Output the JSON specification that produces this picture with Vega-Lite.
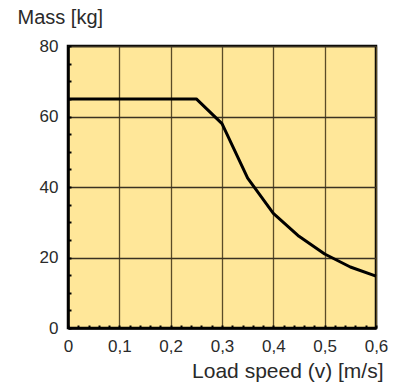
{
  "$schema": "https://vega.github.io/schema/vega-lite/v6.json",
  "autosize": {"type": "none"},
  "padding": {"left": 68, "top": 46, "right": 26, "bottom": 57},
  "width": 308,
  "height": 282,
  "background": "white",
  "config": {
    "view": {"fill": "#FFE799", "stroke": "black", "strokeWidth": 2.5},
    "font": "Liberation Sans"
  },
  "data": {"values": [
    {"v": 0, "m": 65},
    {"v": 0.25, "m": 65},
    {"v": 0.3, "m": 58},
    {"v": 0.35, "m": 42.5},
    {"v": 0.4, "m": 32.5},
    {"v": 0.45, "m": 26},
    {"v": 0.5, "m": 21},
    {"v": 0.55, "m": 17.3},
    {"v": 0.6, "m": 14.7}
  ]},
  "mark": {"type": "line", "color": "black", "strokeWidth": 3, "strokeJoin": "round"},
  "encoding": {
    "x": {
      "field": "v", "type": "quantitative",
      "scale": {"domain": [0, 0.6], "nice": false},
      "axis": {
        "title": "Load speed (v) [m/s]",
        "titleFontSize": 21, "titleFontWeight": "normal", "titleColor": "#2a2a2a",
        "titleAnchor": "end", "titleAlign": "right", "titleBaseline": "alphabetic",
        "titleX": 315, "titleY": 49,
        "values": [0,0.02,0.04,0.06,0.08,0.1,0.12,0.14,0.16,0.18,0.2,0.22,0.24,0.26,0.28,0.3,0.32,0.34,0.36,0.38,0.4,0.42,0.44,0.46,0.48,0.5,0.52,0.54,0.56,0.58,0.6],
        "labelExpr": "abs(datum.value*10-round(datum.value*10))<0.001 ? replace(format(datum.value,'.1~f'),'.',',') : ''",
        "labelFontSize": 17, "labelColor": "#2a2a2a", "labelPadding": 13,
        "labelFlush": false, "labelOverlap": false,
        "tickSize": -3, "tickColor": "black", "tickWidth": 2,
        "domainColor": "black", "domainWidth": 2.5,
        "grid": true,
        "gridColor": "#5a4c28",
        "gridWidth": 1.3,
        "gridOpacity": {"condition": {"test": "abs(datum.value*10-round(datum.value*10))<0.001", "value": 1}, "value": 0}
      }
    },
    "y": {
      "field": "m", "type": "quantitative",
      "scale": {"domain": [0, 80], "nice": false},
      "axis": {
        "title": "Mass [kg]",
        "titleFontSize": 20, "titleFontWeight": "normal", "titleColor": "#2a2a2a",
        "titleAngle": 0, "titleAlign": "left", "titleBaseline": "alphabetic",
        "titleX": -51, "titleY": -23,
        "values": [0,5,10,15,20,25,30,35,40,45,50,55,60,65,70,75,80],
        "labelExpr": "datum.value % 20 == 0 ? datum.label : ''",
        "labelFontSize": 17, "labelColor": "#2a2a2a", "labelPadding": 13,
        "labelOverlap": false,
        "tickSize": -3, "tickColor": "black", "tickWidth": 2,
        "domainColor": "black", "domainWidth": 2.5,
        "grid": true,
        "gridColor": "#3a3222",
        "gridWidth": 1.3,
        "gridOpacity": {"condition": {"test": "datum.value % 20 == 0", "value": 1}, "value": 0}
      }
    }
  }
}
